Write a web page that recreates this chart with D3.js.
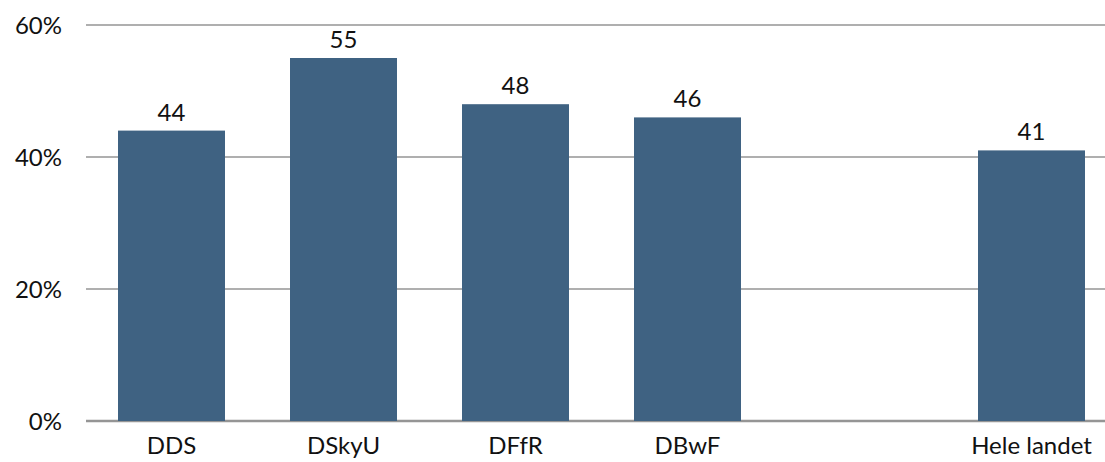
<!DOCTYPE html>
<html>
<head>
<meta charset="utf-8">
<script src="https://cdn.jsdelivr.net/npm/d3@7"></script>
<style>
  body { margin: 0; background: #fff; }
  text { font-family: Lato, "Open Sans", sans-serif; fill: #111; }
</style>
</head>
<body>
<script>
const categories = ["DDS", "DSkyU", "DFfR", "DBwF", "", "Hele landet"];
const values = [44, 55, 48, 46, null, 41];
const yTicks = [0, 20, 40, 60];

const width = 1105,
    height = 462;

const svg = d3.select("body")
    .append("svg")
    .attr("width", width)
    .attr("height", height);

// slots run a little past the right edge, like the original
const xScale = d3.scaleBand()
    .domain(d3.range(categories.length))
    .range([85.5, 1117.5])
    .paddingInner(0.378)
    .paddingOuter(0.189);

const yScale = d3.scaleLinear()
    .domain([0, 60])
    .range([421, 25]);

// gridlines
svg.selectAll("line.grid")
    .data(yTicks)
    .enter()
    .append("line")
    .attr("class", "grid")
    .attr("x1", 86)
    .attr("x2", width)
    .attr("y1", d => yScale(d))
    .attr("y2", d => yScale(d))
    .attr("stroke", "#959595")
    .attr("stroke-width", d => d === 0 ? 2.5 : 1.5);

// y labels
svg.selectAll("text.ytick")
    .data(yTicks)
    .enter()
    .append("text")
    .attr("class", "ytick")
    .attr("x", 62)
    .attr("y", d => yScale(d))
    .attr("dy", "0.36em")
    .attr("text-anchor", "end")
    .style("font-size", "24px")
    .text(d => d + "%");

const barData = values.map((v, i) => ({ i: i, v: v })).filter(d => d.v !== null);

svg.selectAll("rect")
    .data(barData)
    .enter()
    .append("rect")
    .attr("x", d => xScale(d.i))
    .attr("width", xScale.bandwidth())
    .attr("y", d => yScale(d.v))
    .attr("height", d => yScale(0) - yScale(d.v))
    .attr("fill", "#3f6282");

svg.selectAll("text.val")
    .data(barData)
    .enter()
    .append("text")
    .attr("class", "val")
    .attr("x", d => xScale(d.i) + xScale.bandwidth() / 2)
    .attr("y", d => yScale(d.v) - 10)
    .attr("text-anchor", "middle")
    .style("font-size", "24px")
    .text(d => d.v);

// category labels
svg.selectAll("text.cat")
    .data(categories)
    .enter()
    .append("text")
    .attr("class", "cat")
    .attr("x", (d, i) => xScale(i) + xScale.bandwidth() / 2)
    .attr("y", 454)
    .attr("text-anchor", "middle")
    .style("font-size", "24px")
    .text(d => d);
</script>
</body>
</html>
